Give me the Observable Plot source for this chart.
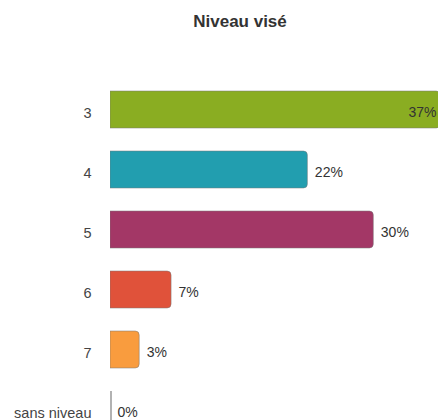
<!DOCTYPE html>
<html>
<head>
<meta charset="utf-8">
<script src="https://cdn.jsdelivr.net/npm/d3@7"></script>
<script src="https://cdn.jsdelivr.net/npm/@observablehq/plot@0.6"></script>
<style>
  html, body { margin: 0; padding: 0; background: #fff; overflow: hidden; }
  #wrap { position: relative; width: 438px; height: 420px; overflow: hidden; }
  #title { position: absolute; top: 12px; left: 240px; transform: translateX(-50%);
    font-family: "Liberation Sans", Arial, sans-serif; font-weight: bold; font-size: 17px;
    line-height: 20px; color: #333; white-space: nowrap; }
  #chart { position: absolute; top: 45px; left: 0; }
</style>
</head>
<body>
<div id="wrap">
  <div id="title">Niveau visé</div>
  <div id="chart"></div>
</div>
<script>
const categories = ["3", "4", "5", "6", "7", "sans niveau"];
const values = [37.3, 22.3, 29.75, 6.9, 3.3, 0];
const valueLabels = ["37%", "22%", "30%", "7%", "3%", "0%"];
const colors = ["#8aad22", "#229eaf", "#a33766", "#e0523a", "#f99c3e", "#999999"];

const data = categories.map((c, i) => ({cat: c, v: values[i], label: valueLabels[i], color: colors[i]}));
const xMax = 37.06;
const inside = d => d.v > 33;

const plot = Plot.plot({
  width: 438,
  height: 396,
  marginLeft: 110,
  marginRight: 0,
  marginTop: 32.2,
  marginBottom: 0,
  style: {fontFamily: "'Liberation Sans', Arial, sans-serif", fontSize: "14px", background: "#fff"},
  x: {domain: [0, xMax], axis: null},
  y: {domain: categories, padding: 0.3894, paddingOuter: 0.1947, label: null},
  marks: [
    Plot.barX(data.filter(d => d.v > 0), {
      x: "v", y: "cat", fill: "color", stroke: "#777", strokeOpacity: 0.5, strokeWidth: 1,
      rx2: 4, clip: true
    }),
    Plot.tickX(data.filter(d => d.v === 0), {x: "v", y: "cat", stroke: "#999", strokeWidth: 1.5, dx: 0.5}),
    Plot.text(data.filter(d => !inside(d)), {
      x: "v", y: "cat", text: "label", textAnchor: "start", dx: 7, dy: 3, fill: "#333", fontSize: 14
    }),
    Plot.text(data.filter(inside), {
      x: () => xMax, y: "cat", text: "label", textAnchor: "end", dx: -2, dy: 3, fill: "#333", fontSize: 14
    }),
    Plot.axisY({tickSize: 0, tickPadding: 19, dy: 3, fill: "#444", fontSize: 14.5, label: null})
  ]
});
document.getElementById("chart").appendChild(plot);
</script>
</body>
</html>
